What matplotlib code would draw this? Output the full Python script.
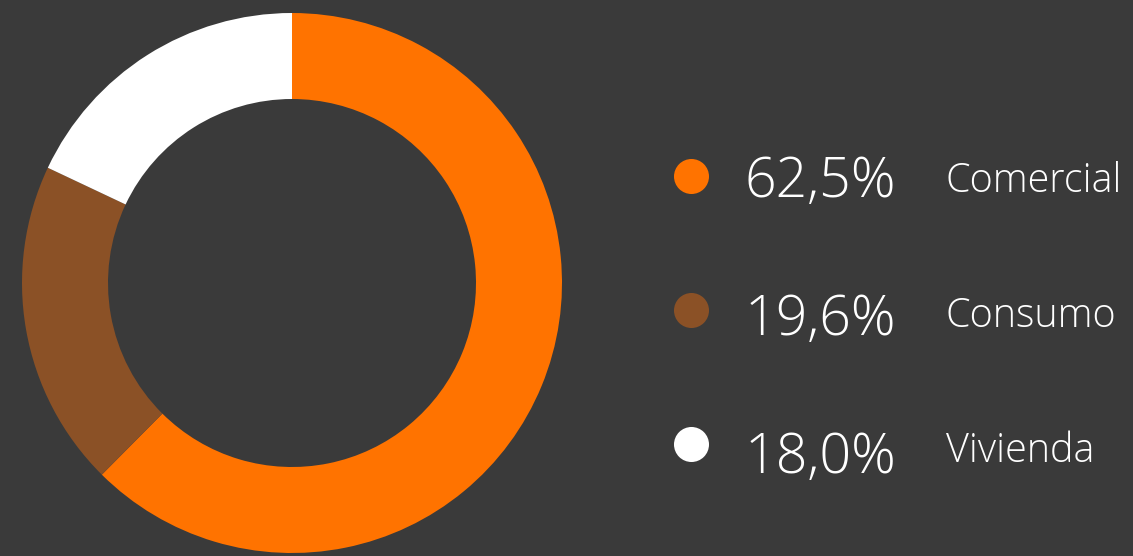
import matplotlib.pyplot as plt

labels = ['Comercial', 'Consumo', 'Vivienda']
shares = [62.5, 19.6, 18.0]
pct_text = ['62,5%', '19,6%', '18,0%']
colors = ['#FF7300', '#8B5126', '#FFFFFF']
bg = '#3A3A3A'

W, H = 1133, 556
fig = plt.figure(figsize=(W / 100, H / 100), dpi=100, facecolor=bg)
ax = fig.add_axes([0, 0, 1, 1])
ax.set_facecolor(bg)

# donut, pixel coords (y up)
R, r = 270, 184
ax.pie(shares, colors=colors, startangle=90, counterclock=False,
       center=(292, H - 283), radius=R,
       wedgeprops=dict(width=R - r, linewidth=0), frame=True)
ax.set_xlim(0, W)
ax.set_ylim(0, H)
ax.set_aspect('equal')
ax.axis('off')

# legend rows
dot_y = [176, 310, 444]
pct_base = [197, 335, 473]
lab_base = [192, 327, 462]
for i in range(len(labels)):
    ax.scatter([691], [H - dot_y[i]], s=34 ** 2 * 0.55, color=colors[i], zorder=3, linewidths=0)
    ax.text(745, H - pct_base[i], pct_text[i], color='white', fontsize=40,
            family='Open Sans', fontweight='light', ha='left', va='baseline')
    ax.text(946, H - lab_base[i], labels[i], color='white', fontsize=28.5,
            family='Open Sans', fontweight='light', ha='left', va='baseline')

fig.savefig('out.png', dpi=100, facecolor=bg)
